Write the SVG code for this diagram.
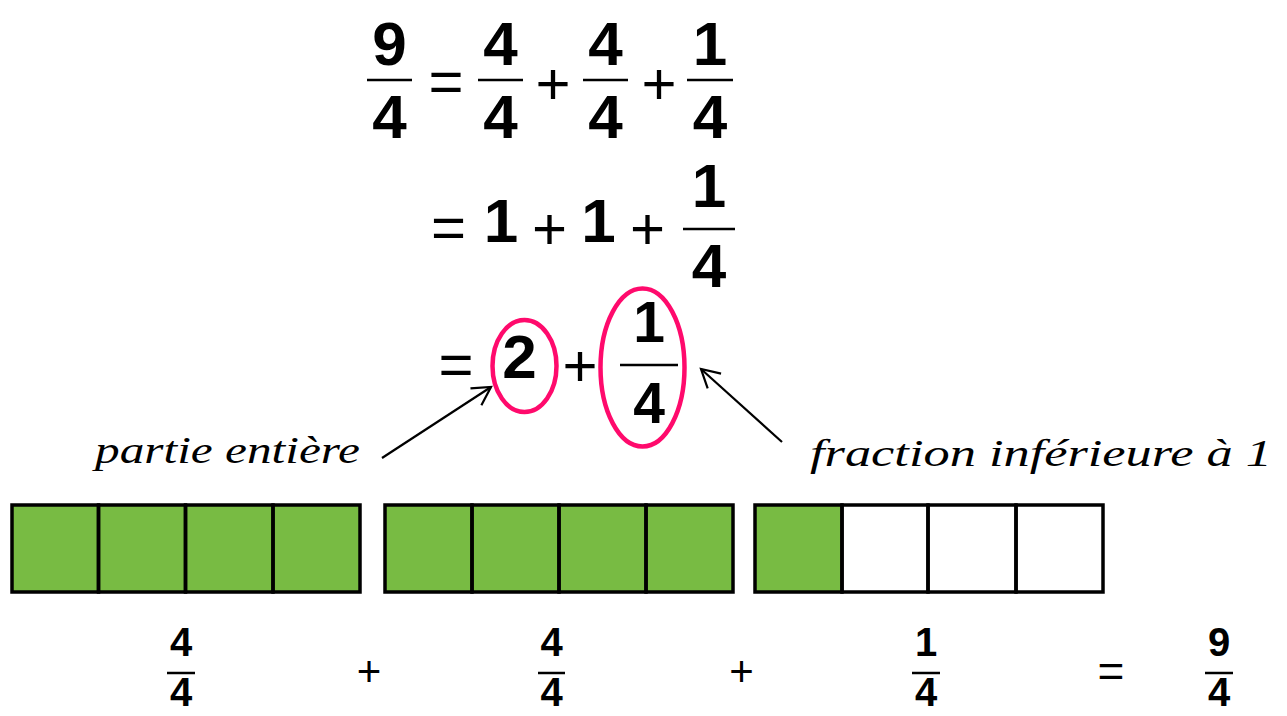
<svg xmlns="http://www.w3.org/2000/svg" width="1287" height="716" viewBox="0 0 1287 716">
<style>
.d{font-family:"Liberation Sans",Arial,sans-serif;font-weight:bold;fill:#000;text-anchor:middle}
.s{font-family:"Liberation Sans",Arial,sans-serif;fill:#000;text-anchor:middle}
.fl{stroke:#000;stroke-width:2.5}
.lab{font-family:"Liberation Serif","Times New Roman",serif;font-style:italic;fill:#000}
.g{fill:#78bb43}
.w{fill:#fff}
.cell{fill:none;stroke:#000;stroke-width:3.5}
.ell{fill:none;stroke:#ff0a6c;stroke-width:4.5}
.arr{fill:none;stroke:#000;stroke-width:2.2}
</style>
<defs>
<marker id="ah" markerUnits="userSpaceOnUse" markerWidth="30" markerHeight="30" refX="20" refY="12" orient="auto" viewBox="0 0 30 24">
<path d="M2,2 L20,12 L2,22" fill="none" stroke="#000" stroke-width="2.2"/>
</marker>
</defs>
<rect width="1287" height="716" fill="#fff"/>

<g id="eq-line1">
<text class="d" x="389.5" y="65" font-size="62">9</text>
<line class="fl" x1="367" y1="80" x2="412" y2="80"/>
<text class="d" x="389.5" y="138" font-size="62">4</text>
<text class="s" x="446" y="102" font-size="60">=</text>
<text class="d" x="500.5" y="65" font-size="62">4</text>
<line class="fl" x1="478" y1="80" x2="523" y2="80"/>
<text class="d" x="500.5" y="138" font-size="62">4</text>
<text class="s" x="553" y="104" font-size="60">+</text>
<text class="d" x="605.5" y="65" font-size="62">4</text>
<line class="fl" x1="583" y1="80" x2="628" y2="80"/>
<text class="d" x="605.5" y="138" font-size="62">4</text>
<text class="s" x="659" y="104" font-size="60">+</text>
<text class="d" x="710" y="65" font-size="62">1</text>
<line class="fl" x1="687" y1="80" x2="733" y2="80"/>
<text class="d" x="710" y="138" font-size="62">4</text>
</g>

<g id="eq-line2">
<text class="s" x="448.5" y="247.5" font-size="60">=</text>
<text class="d" x="501" y="242" font-size="62">1</text>
<text class="s" x="549.5" y="249" font-size="60">+</text>
<text class="d" x="598.5" y="242" font-size="62">1</text>
<text class="s" x="647.5" y="249" font-size="60">+</text>
<text class="d" x="709" y="207" font-size="62">1</text>
<line class="fl" x1="683" y1="229" x2="735" y2="229"/>
<text class="d" x="709" y="287" font-size="62">4</text>
</g>

<g id="eq-line3">
<text class="s" x="456" y="384.5" font-size="60">=</text>
<text class="d" x="519.5" y="378" font-size="62">2</text>
<text class="s" x="580" y="386" font-size="60">+</text>
<text class="d" x="649" y="342" font-size="57">1</text>
<line class="fl" x1="620" y1="365" x2="678" y2="365"/>
<text class="d" x="649" y="423" font-size="57">4</text>
</g>

<g id="circle-whole">
<ellipse class="ell" cx="524.5" cy="366" rx="32" ry="46"/>
</g>
<g id="circle-fraction">
<ellipse class="ell" cx="642.5" cy="367.5" rx="42" ry="79"/>
</g>

<g id="label-whole">
<text class="lab" x="95" y="463" font-size="38" textLength="265" lengthAdjust="spacingAndGlyphs">partie entière</text>
</g>
<g id="label-fraction">
<text class="lab" x="810" y="466" font-size="38" textLength="462" lengthAdjust="spacingAndGlyphs">fraction inférieure à 1</text>
</g>

<g id="connectors">
<line class="arr" x1="382" y1="458" x2="491" y2="387" marker-end="url(#ah)"/>
<line class="arr" x1="782" y1="442" x2="701" y2="369" marker-end="url(#ah)"/>
</g>

<g id="bar1">
<rect class="g" x="12" y="505" width="348" height="87"/>
<rect class="cell" x="12" y="505" width="86.5" height="87"/>
<rect class="cell" x="98.5" y="505" width="87" height="87"/>
<rect class="cell" x="185.5" y="505" width="87.5" height="87"/>
<rect class="cell" x="273" y="505" width="87" height="87"/>
</g>
<g id="bar2">
<rect class="g" x="385" y="505" width="348" height="87"/>
<rect class="cell" x="385" y="505" width="87" height="87"/>
<rect class="cell" x="472" y="505" width="87" height="87"/>
<rect class="cell" x="559" y="505" width="87" height="87"/>
<rect class="cell" x="646" y="505" width="87" height="87"/>
</g>
<g id="bar3">
<rect class="g" x="755" y="505" width="87" height="87"/>
<rect class="w" x="842" y="505" width="261" height="87"/>
<rect class="cell" x="755" y="505" width="87" height="87"/>
<rect class="cell" x="842" y="505" width="86" height="87"/>
<rect class="cell" x="928" y="505" width="88" height="87"/>
<rect class="cell" x="1016" y="505" width="87" height="87"/>
</g>

<g id="bottom-eq">
<text class="d" x="181" y="656" font-size="40">4</text>
<line class="fl" x1="167" y1="673" x2="195" y2="673" stroke-width="2"/>
<text class="d" x="181" y="706" font-size="40">4</text>
<text class="s" x="369" y="686" font-size="42">+</text>
<text class="d" x="551.5" y="656" font-size="40">4</text>
<line class="fl" x1="538" y1="673" x2="565" y2="673" stroke-width="2"/>
<text class="d" x="551.5" y="706" font-size="40">4</text>
<text class="s" x="741.5" y="686" font-size="42">+</text>
<text class="d" x="926" y="656" font-size="40">1</text>
<line class="fl" x1="912" y1="673" x2="940" y2="673" stroke-width="2"/>
<text class="d" x="926" y="706" font-size="40">4</text>
<text class="s" x="1111" y="687" font-size="46">=</text>
<text class="d" x="1219" y="656" font-size="40">9</text>
<line class="fl" x1="1205" y1="673" x2="1233" y2="673" stroke-width="2"/>
<text class="d" x="1219" y="706" font-size="40">4</text>
</g>
</svg>
